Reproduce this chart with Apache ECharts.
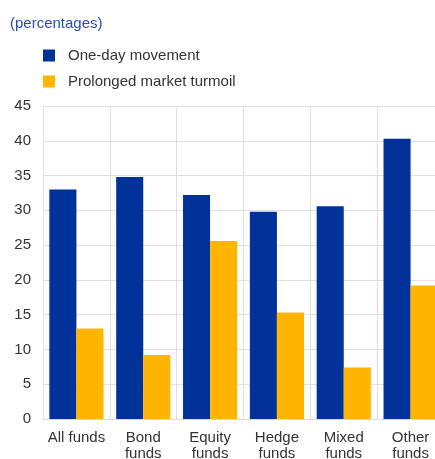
<!DOCTYPE html>
<html>
<head>
<meta charset="utf-8">
<script src="https://cdn.jsdelivr.net/npm/echarts@6/dist/echarts.min.js"></script>
<style>
html,body{margin:0;padding:0;background:#fff;}
#c{width:435px;height:459px;}
</style>
</head>
<body>
<div id="c"></div>
<script>
var categories = ["All funds", "Bond\nfunds", "Equity\nfunds", "Hedge\nfunds", "Mixed\nfunds", "Other\nfunds"];
var oneDay = [33.0, 34.8, 32.2, 29.8, 30.6, 40.3];
var prolonged = [13.0, 9.2, 25.6, 15.3, 7.4, 19.2];
var seriesNames = ["One-day movement", "Prolonged market turmoil"];
var yTicks = {min: 0, max: 45, interval: 5};

var chart = echarts.init(document.getElementById('c'), null, {renderer: 'canvas'});
chart.setOption({
  animation: false,
  title: {
    text: "(percentages)",
    left: 10, top: 16, padding: 0,
    textStyle: {fontFamily: "Liberation Sans", fontSize: 15, fontWeight: 'normal', color: '#2a4ea6'}
  },
  legend: {
    orient: 'vertical', left: 43, top: 48, padding: 0,
    itemWidth: 12, itemHeight: 12, itemGap: 11,
    icon: 'rect',
    textStyle: {fontFamily: "Liberation Sans", fontSize: 15, color: '#333', padding: [0, 0, 0, 8]},
    data: seriesNames
  },
  grid: {left: 43, top: 106, width: 401, height: 313, containLabel: false, outerBoundsMode: 'none'},
  xAxis: {
    type: 'category',
    data: categories,
    axisLine: {lineStyle: {color: '#d9d9d9'}},
    axisTick: {show: false},
    splitLine: {show: true, lineStyle: {color: '#e0e0e0'}},
    axisLabel: {fontFamily: "Liberation Sans", fontSize: 15, color: '#333', margin: 11, lineHeight: 16, interval: 0}
  },
  yAxis: {
    type: 'value',
    min: yTicks.min, max: yTicks.max, interval: yTicks.interval,
    axisLine: {show: false},
    axisTick: {show: false},
    splitLine: {lineStyle: {color: '#e0e0e0'}},
    axisLabel: {fontFamily: "Liberation Sans", fontSize: 15, color: '#333', margin: 12}
  },
  series: [
    {name: seriesNames[0], type: 'bar', data: oneDay, barGap: '0%', barCategoryGap: '19%',
     itemStyle: {color: '#003299'}},
    {name: seriesNames[1], type: 'bar', data: prolonged, barGap: '0%', barCategoryGap: '19%',
     itemStyle: {color: '#ffb400'}}
  ]
});
</script>
</body>
</html>
